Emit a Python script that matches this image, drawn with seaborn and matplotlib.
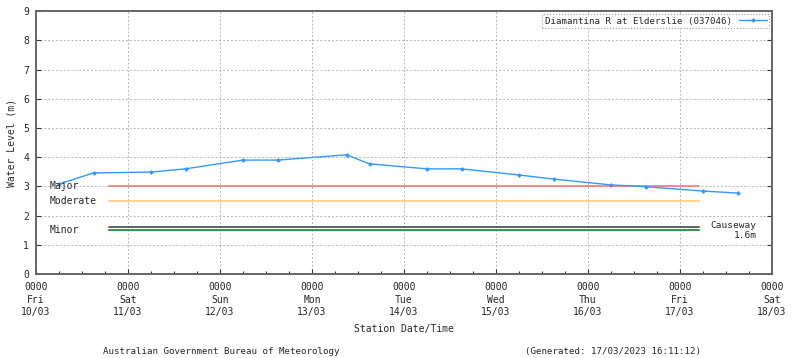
import matplotlib
matplotlib.use("Agg")
import matplotlib.pyplot as plt
import matplotlib.dates as mdates
import seaborn as sns
import pandas as pd

# Observed water level (m) at Diamantina R at Elderslie
obs_times = ["2023-03-10 06:00", "2023-03-10 15:00", "2023-03-11 06:00", "2023-03-11 15:00",
             "2023-03-12 06:00", "2023-03-12 15:00", "2023-03-13 09:00", "2023-03-13 15:00",
             "2023-03-14 06:00", "2023-03-14 15:00", "2023-03-15 06:00", "2023-03-15 15:00",
             "2023-03-16 06:00", "2023-03-16 15:00", "2023-03-17 06:00", "2023-03-17 15:00"]
obs_levels = [3.08, 3.46, 3.49, 3.60, 3.90, 3.90, 4.08, 3.77,
              3.60, 3.60, 3.39, 3.25, 3.05, 2.99, 2.84, 2.77]

# Flood classification levels
class_names = ["Major", "Moderate", "Minor", "Causeway"]
class_levels = [3.0, 2.5, 1.5, 1.6]
class_colors = ["#ff7f7f", "#ffd080", "#218c3a", "#555555"]
class_span = ["2023-03-10 19:00", "2023-03-17 05:00"]

day_ticks = pd.date_range("2023-03-10", "2023-03-18", freq="D")

sns.set_theme(style="white")
plt.rcParams["font.family"] = ["DejaVu Sans Mono"]
plt.rcParams["font.size"] = 6.5

fig = plt.figure(figsize=(8, 3.58), dpi=100)
ax = fig.add_axes([0.045, 0.2346, 0.92, 0.7344])

df = pd.DataFrame({"time": pd.to_datetime(obs_times), "level": obs_levels})

# Classification lines
span = pd.to_datetime(class_span)
for name, lvl, col in zip(class_names, class_levels, class_colors):
    ax.plot(span, [lvl, lvl], color=col, lw=1.3, zorder=2)

sns.lineplot(data=df, x="time", y="level", ax=ax, color="#3399ff", lw=1.0,
             marker="D", markersize=2.5, markeredgewidth=0,
             label="Diamantina R at Elderslie (037046)", zorder=3)

# Level labels
x0 = pd.Timestamp("2023-03-10 03:40")
ax.text(x0, 3.0, "Major", va="center", ha="left", fontsize=7)
ax.text(x0, 2.5, "Moderate", va="center", ha="left", fontsize=7)
ax.text(x0, 1.5, "Minor", va="center", ha="left", fontsize=7)
x1 = pd.Timestamp("2023-03-17 20:00")
ax.text(x1, 1.66, "Causeway", va="center", ha="right", fontsize=6.8)
ax.text(x1, 1.32, "1.6m", va="center", ha="right", fontsize=6.8)

ax.set_xlim(day_ticks[0], day_ticks[-1])
ax.set_ylim(0, 9)
ax.set_yticks(range(0, 10))
ax.set_xticks(day_ticks)
ax.set_xticklabels([d.strftime("0000\n%a\n%d/%m") for d in day_ticks], linespacing=1.3)
ax.xaxis.set_minor_locator(mdates.HourLocator(byhour=[6, 12, 18]))

ax.tick_params(axis="both", which="major", direction="in", length=3.5, width=0.8,
               color="#333333", labelsize=7, pad=5)
ax.tick_params(axis="x", which="major", pad=6)
ax.tick_params(axis="x", which="minor", direction="in", length=2, width=0.8, color="#333333")
ax.tick_params(axis="y", right=True, left=True)
ax.tick_params(axis="x", bottom=True, which="both")

ax.grid(True, which="major", color="#b5b5b5", linestyle=(0, (2, 2)), lw=0.7)
for s in ax.spines.values():
    s.set_color("#666666")
    s.set_linewidth(1.4)

ax.set_xlabel("Station Date/Time", fontsize=7, labelpad=5)
ax.set_ylabel("Water Level (m)", fontsize=7, labelpad=5)

leg = ax.legend(loc="upper right", markerfirst=False, fontsize=6.6, fancybox=False,
                borderpad=0.3, handlelength=3, borderaxespad=0.3)
leg.get_frame().set_linestyle(":")
leg.get_frame().set_edgecolor("#888888")
leg.get_frame().set_linewidth(0.8)

fig.text(0.277, 0.012, "Australian Government Bureau of Meteorology", ha="center", fontsize=6.6)
fig.text(0.766, 0.012, "(Generated: 17/03/2023 16:11:12)", ha="center", fontsize=6.6)

fig.savefig("out.png", dpi=100)
